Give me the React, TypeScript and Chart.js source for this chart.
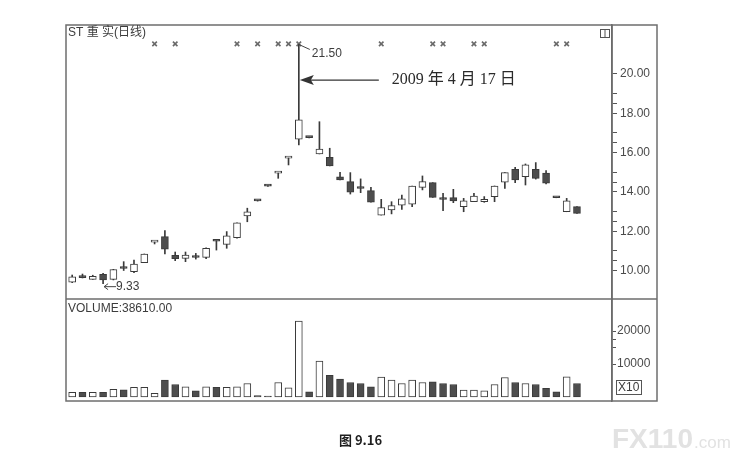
import React, { useEffect, useRef } from 'react';
import { Chart, registerables } from 'chart.js';
Chart.register(...registerables);

const titleText = 'ST 重 实(日线)';
const volumeTitle = 'VOLUME:38610.00';
const dateLabel = '2009 年 4 月 17 日';
const captionText = '图 9.16';

const opens = [9.40, 9.72, 9.55, 9.81, 9.55, 10.12, 9.94, 10.40, 11.44, 11.72,
  10.77, 10.62, 10.68, 10.67, 11.51, 11.33, 11.67, 12.78, 13.56, 14.31,
  14.95, 15.72, 16.68, 16.78, 15.93, 15.76, 14.77, 14.52, 14.19, 14.06,
  12.82, 13.08, 13.33, 13.38, 14.23, 14.47, 13.63, 13.71, 13.25, 13.50,
  13.50, 13.76, 14.49, 15.15, 14.77, 15.15, 14.95, 13.72, 12.99, 13.25];
const highs = [9.77, 9.82, 9.76, 9.85, 10.06, 10.45, 10.53, 10.84, 11.47, 12.03,
  10.94, 10.94, 10.87, 11.15, 11.52, 11.98, 12.43, 13.17, 13.57, 14.32,
  14.98, 15.75, 21.50, 16.79, 17.57, 16.22, 15.00, 14.98, 14.66, 14.23,
  13.62, 13.50, 13.84, 14.30, 14.81, 14.47, 13.93, 14.13, 13.67, 13.93,
  13.76, 14.30, 14.98, 15.25, 15.42, 15.49, 15.08, 13.73, 13.67, 13.25];
const lows = [9.38, 9.62, 9.55, 9.33, 9.52, 10.00, 9.89, 10.40, 11.35, 10.84,
  10.50, 10.45, 10.58, 10.60, 11.04, 11.13, 11.65, 12.48, 13.53, 14.28,
  14.69, 15.37, 16.39, 16.75, 15.93, 15.32, 14.61, 13.89, 13.96, 13.47,
  12.82, 12.88, 13.11, 13.25, 14.10, 13.72, 13.04, 13.45, 12.99, 13.50,
  13.47, 13.50, 14.18, 14.47, 14.35, 14.65, 14.40, 13.70, 12.99, 12.91];
const closes = [9.68, 9.64, 9.70, 9.52, 10.05, 10.10, 10.33, 10.84, 11.46, 11.08,
  10.60, 10.78, 10.66, 11.13, 11.49, 11.76, 12.43, 12.98, 13.54, 14.29,
  14.97, 15.74, 17.66, 16.76, 16.18, 15.32, 14.61, 13.98, 14.17, 13.47,
  13.20, 13.30, 13.64, 14.30, 14.52, 13.72, 13.61, 13.54, 13.55, 13.79,
  13.62, 14.30, 14.98, 14.61, 15.37, 14.69, 14.44, 13.70, 13.55, 12.91];
const volumes = [1400, 1400, 1400, 1400, 2300, 2200, 2900, 2900, 1100, 5100,
  3800, 3100, 1900, 3100, 2900, 2900, 3100, 4100, 400, 300,
  4400, 2800, 23000, 1600, 10900, 6600, 5400, 4400, 4100, 3100,
  6000, 5100, 4100, 5100, 4400, 4600, 4100, 3800, 2100, 2100,
  1900, 3800, 5900, 4400, 4100, 3800, 2600, 1600, 6100, 4100];
const markerIdx = [8, 10, 16, 18, 20, 21, 22, 30, 35, 36, 39, 40, 47, 48];
const MARKER_LEVEL = 21.53;
const ARROW_LEVEL = 19.69;
const PEAK_INDEX = 22;
const LOW_INDEX = 3;
const priceMajor = [10, 12, 14, 16, 18, 20];
const priceMinor = [10.5, 11, 12.5, 13, 14.5, 15, 16.5, 17, 18.5, 19];
const volMajor = [10000, 20000];
const volMinor = [15000, 17500];

const ups = opens.map((o, i) => closes[i] >= o);
const DARK = '#3a3a3a';
const FILL = '#4d4d4d';
const LABEL_FONT = { family: '"Liberation Sans", Arial, sans-serif', size: 12 };

const decor = {
  id: 'decor',
  afterDraw(chart: any) {
    const { ctx, chartArea: ca, scales } = chart;
    const xs = scales.x, yP = scales.yPrice, yV = scales.yVol;
    const L = ca.left, R = yP.right, T = ca.top, B = ca.bottom, mid = yV.top;
    ctx.save();
    ctx.strokeStyle = '#6e6e6e';
    ctx.lineWidth = 1.5;
    ctx.strokeRect(L, T, R - L, B - T);
    ctx.beginPath();
    ctx.moveTo(L, mid); ctx.lineTo(R, mid);
    ctx.moveTo(ca.right, T); ctx.lineTo(ca.right, B);
    ctx.stroke();

    ctx.fillStyle = '#3c3c3c';
    ctx.font = '12px "Liberation Sans", "Noto Sans CJK SC", sans-serif';
    ctx.textBaseline = 'middle';
    ctx.textAlign = 'left';
    ctx.fillText(titleText, L + 2, T + 8);
    ctx.fillText(volumeTitle, L + 2, mid + 10);

    // small icon top-right
    ctx.lineWidth = 1;
    ctx.strokeStyle = '#555';
    ctx.strokeRect(ca.right - 11.5, T + 4.5, 9, 8);
    ctx.beginPath(); ctx.moveTo(ca.right - 7, T + 4.5); ctx.lineTo(ca.right - 7, T + 12.5); ctx.stroke();

    // X10 box
    ctx.strokeRect(ca.right + 4.5, B - 20.5, 25, 14);
    ctx.font = '12px "Liberation Sans", sans-serif';
    ctx.fillText('X10', ca.right + 6, B - 13);

    // peak annotation
    const px = xs.getPixelForValue(PEAK_INDEX);
    const py = yP.getPixelForValue(highs[PEAK_INDEX]);
    ctx.strokeStyle = '#444';
    ctx.beginPath(); ctx.moveTo(px, py); ctx.lineTo(px + 11, py + 5); ctx.stroke();
    ctx.fillStyle = '#3c3c3c';
    ctx.fillText(highs[PEAK_INDEX].toFixed(2), px + 13, py + 9);

    // big arrow with date
    const ay = yP.getPixelForValue(ARROW_LEVEL);
    ctx.strokeStyle = '#333';
    ctx.lineWidth = 1.2;
    ctx.beginPath(); ctx.moveTo(px + 8, ay); ctx.lineTo(px + 80, ay); ctx.stroke();
    ctx.fillStyle = '#333';
    ctx.beginPath();
    ctx.moveTo(px + 1, ay); ctx.lineTo(px + 15, ay - 5); ctx.lineTo(px + 12, ay); ctx.lineTo(px + 15, ay + 5);
    ctx.closePath(); ctx.fill();
    ctx.font = '16px "Liberation Serif", "Noto Sans CJK SC", serif';
    ctx.fillStyle = '#2a2a2a';
    ctx.fillText(dateLabel, px + 93, ay);

    // low annotation
    const lx = xs.getPixelForValue(LOW_INDEX);
    const ly = yP.getPixelForValue(lows[LOW_INDEX]) + 3;
    ctx.strokeStyle = '#444';
    ctx.lineWidth = 1;
    ctx.beginPath();
    ctx.moveTo(lx + 1, ly); ctx.lineTo(lx + 13, ly);
    ctx.moveTo(lx + 1, ly); ctx.lineTo(lx + 5, ly - 3);
    ctx.moveTo(lx + 1, ly); ctx.lineTo(lx + 5, ly + 3);
    ctx.stroke();
    ctx.fillStyle = '#3c3c3c';
    ctx.font = '12px "Liberation Sans", sans-serif';
    ctx.fillText(lows[LOW_INDEX].toFixed(2), lx + 13, ly);

    // caption
    ctx.font = 'bold 13px "Noto Sans CJK SC", sans-serif';
    ctx.fillStyle = '#1e1e1e';
    ctx.fillText(captionText, 339, 440);

    // watermark
    ctx.fillStyle = '#e2e2e2';
    ctx.textBaseline = 'alphabetic';
    ctx.font = 'bold 28px "Liberation Sans", sans-serif';
    ctx.fillText('FX110', 612, 448);
    const w = ctx.measureText('FX110').width;
    ctx.font = '17px "Liberation Sans", sans-serif';
    ctx.fillText('.com', 612 + w + 1, 448);
    ctx.restore();
  },
};

export default function App() {
  const ref = useRef<HTMLCanvasElement>(null);
  useEffect(() => {
    if (!ref.current) return;
    const idx = opens.map((_, i) => i);
    const chart = new Chart(ref.current, {
      type: 'bar',
      data: {
        datasets: [
          {
            type: 'bar',
            label: 'body',
            data: idx.map((i) => ({ x: i, y: [opens[i], closes[i]] })) as any,
            xAxisID: 'x',
            yAxisID: 'yPrice',
            backgroundColor: ups.map((u) => (u ? '#ffffff' : FILL)),
            borderColor: DARK,
            borderWidth: 1,
            borderSkipped: false,
            barThickness: 7,
            minBarLength: 2,
            grouped: false,
            order: 0,
          } as any,
          {
            type: 'bar',
            label: 'wick',
            data: idx.map((i) => ({ x: i, y: [lows[i], highs[i]] })) as any,
            xAxisID: 'x',
            yAxisID: 'yPrice',
            backgroundColor: DARK,
            borderWidth: 0,
            barThickness: 1,
            grouped: false,
            order: 1,
          } as any,
          {
            type: 'bar',
            label: 'volume',
            data: idx.map((i) => ({ x: i, y: volumes[i] })) as any,
            xAxisID: 'x',
            yAxisID: 'yVol',
            backgroundColor: ups.map((u) => (u ? '#ffffff' : FILL)),
            borderColor: DARK,
            borderWidth: 1,
            borderSkipped: false,
            barThickness: 7,
            grouped: false,
            order: 2,
          } as any,
          {
            type: 'scatter',
            label: 'marks',
            data: markerIdx.map((i) => ({ x: i, y: MARKER_LEVEL })),
            xAxisID: 'x',
            yAxisID: 'yPrice',
            pointStyle: 'crossRot',
            pointRadius: 3.2,
            borderColor: '#6a6a6a',
            borderWidth: 1.6,
            showLine: false,
            order: 3,
          } as any,
        ],
      },
      options: {
        responsive: false,
        animation: false,
        events: [],
        layout: { padding: { left: 66, right: 82, top: 25, bottom: 61 } },
        plugins: { legend: { display: false }, tooltip: { enabled: false } },
        scales: {
          x: { type: 'linear', min: -0.6, max: 52.4, display: false, offset: false },
          yPrice: {
            type: 'linear',
            position: 'right',
            stack: 'main',
            stackWeight: 274,
            min: 8.55,
            max: 22.49,
            afterBuildTicks: (s: any) => {
              s.ticks = [...priceMajor, ...priceMinor].sort((a, b) => a - b).map((v) => ({ value: v }));
            },
            afterFit: (s: any) => { s.width = 45; },
            ticks: {
              autoSkip: false,
              maxRotation: 0,
              padding: 3,
              color: '#4a4a4a',
              font: LABEL_FONT,
              callback: (v: any) => (priceMajor.includes(Number(v)) ? Number(v).toFixed(2) : ''),
            },
            grid: { drawOnChartArea: false, tickLength: 5, color: '#555' },
            border: { display: true, color: '#666', width: 1.5 },
          },
          yVol: {
            type: 'linear',
            position: 'right',
            stack: 'main',
            stackWeight: 102,
            min: -1212,
            max: 29700,
            afterBuildTicks: (s: any) => {
              s.ticks = [...volMajor, ...volMinor].sort((a, b) => a - b).map((v) => ({ value: v }));
            },
            afterFit: (s: any) => { s.width = 45; },
            ticks: {
              autoSkip: false,
              maxRotation: 0,
              padding: 1,
              color: '#4a4a4a',
              font: LABEL_FONT,
              callback: (v: any) => (volMajor.includes(Number(v)) ? String(v) : ''),
            },
            grid: { drawOnChartArea: false, tickLength: 4, color: '#555' },
            border: { display: true, color: '#666', width: 1.5 },
          },
        } as any,
      },
      plugins: [decor],
    });
    return () => chart.destroy();
  }, []);
  return (
    <div style={{ position: 'absolute', left: 0, top: 0, width: 739, height: 462, background: '#fff' }}>
      <canvas ref={ref} width={739} height={462} style={{ width: 739, height: 462 }} />
    </div>
  );
}
